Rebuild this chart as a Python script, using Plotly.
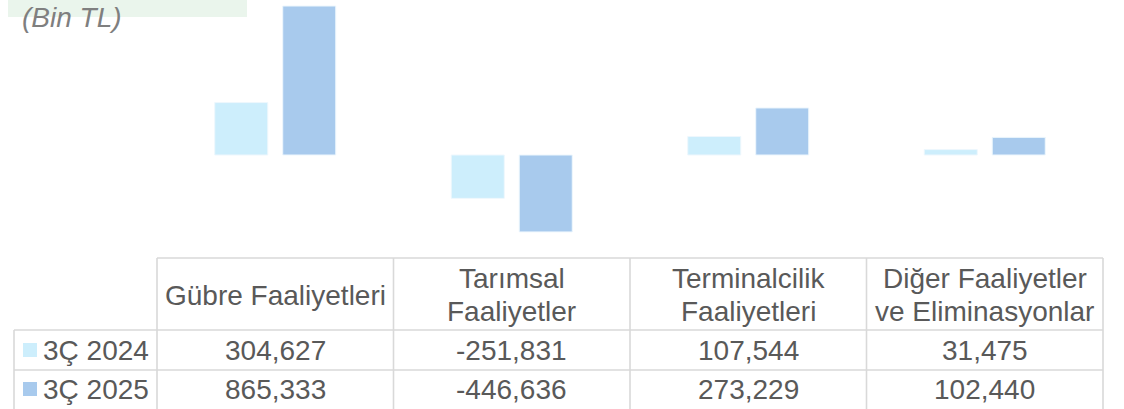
import plotly.graph_objects as go

categories = ["Gübre Faaliyetleri", "Tarımsal\nFaaliyetler", "Terminalcilik\nFaaliyetleri", "Diğer Faaliyetler\nve Eliminasyonlar"]
series_names = ["3Ç 2024", "3Ç 2025"]
values_2024 = [304627, -251831, 107544, 31475]
values_2025 = [865333, -446636, 273229, 102440]
colors = ["#CDEEFC", "#A8CAED"]
unit_label = "(Bin TL)"

W, H = 1124, 409
TXT = "#595959"
GRID = "#D9D9D9"
FONT = "Liberation Sans, Arial, sans-serif"
FS = 28

def px_x(x):
    return x / W

def px_y(y):
    return 1 - y / H

# plot geometry (pixels)
x_left, x_right = 157, 1103
zero_px, plot_bottom_px = 155, 250
scale = 149 / 865.333  # px per thousand
y_top_val = zero_px / scale * 1000
y_bot_val = -(plot_bottom_px - zero_px) / scale * 1000

fig = go.Figure()
xs = list(range(len(categories)))
for name, vals, col in zip(series_names, [values_2024, values_2025], colors):
    fig.add_trace(go.Bar(x=xs, y=vals, name=name, marker=dict(color=col, line=dict(color="#EEF7FD", width=1)),
                         hoverinfo="y"))

fig.update_layout(
    width=W, height=H,
    margin=dict(l=0, r=0, t=0, b=0),
    paper_bgcolor="white", plot_bgcolor="white",
    barmode="group", bargap=0.425, bargroupgap=0.22,
    showlegend=False,
    font=dict(family=FONT, color=TXT, size=FS),
    xaxis=dict(domain=[px_x(x_left), px_x(x_right)], range=[-0.5, len(categories) - 0.5],
               visible=False, fixedrange=True),
    yaxis=dict(domain=[px_y(plot_bottom_px), 1], range=[y_bot_val, y_top_val],
               visible=False, fixedrange=True),
)

shapes = []
# unit label background
shapes.append(dict(type="rect", xref="paper", yref="paper", x0=px_x(8), x1=px_x(247), y0=px_y(17), y1=px_y(0),
                   fillcolor="#EAF5EC", line=dict(width=0), layer="below"))

# table grid
header_top, header_bot, row1_bot, table_bot = 258, 330, 370, 412
legend_left = 14
col_edges = [x_left + i * (x_right - x_left) / len(categories) for i in range(len(categories) + 1)]
line = dict(color=GRID, width=1.6)
shapes.append(dict(type="line", xref="paper", yref="paper", x0=px_x(x_left), x1=px_x(x_right),
                   y0=px_y(header_top), y1=px_y(header_top), line=line))
for yy in [header_bot, row1_bot]:
    shapes.append(dict(type="line", xref="paper", yref="paper", x0=px_x(legend_left), x1=px_x(x_right),
                       y0=px_y(yy), y1=px_y(yy), line=line))
shapes.append(dict(type="line", xref="paper", yref="paper", x0=px_x(legend_left), x1=px_x(legend_left),
                   y0=px_y(header_bot), y1=px_y(table_bot), line=line))
for xe in col_edges:
    shapes.append(dict(type="line", xref="paper", yref="paper", x0=px_x(xe), x1=px_x(xe),
                       y0=px_y(header_top), y1=px_y(table_bot), line=line))

annotations = []
annotations.append(dict(text="<i>" + unit_label + "</i>", xref="paper", yref="paper", x=px_x(20), y=px_y(18),
                        xanchor="left", yanchor="middle", showarrow=False,
                        font=dict(family=FONT, size=FS, color="#7F7F7F")))

# header
header_mid = (header_top + header_bot) / 2 + 1
for i, cat in enumerate(categories):
    cx = (col_edges[i] + col_edges[i + 1]) / 2
    lines = cat.split("\n")
    n = len(lines)
    for j, ln in enumerate(lines):
        yy = header_mid + (j - (n - 1) / 2) * 33
        annotations.append(dict(text=ln, xref="paper", yref="paper", x=px_x(cx), y=px_y(yy),
                                xanchor="center", yanchor="middle", showarrow=False))

# data rows
row_centers = [(header_bot + row1_bot) / 2, (row1_bot + table_bot) / 2 - 2]
for r, (name, vals, col) in enumerate(zip(series_names, [values_2024, values_2025], colors)):
    yc = row_centers[r]
    shapes.append(dict(type="rect", xref="paper", yref="paper", x0=px_x(23), x1=px_x(37),
                       y0=px_y(yc + 7), y1=px_y(yc - 7), fillcolor=col, line=dict(width=0)))
    annotations.append(dict(text=name, xref="paper", yref="paper", x=px_x(41), y=px_y(yc),
                            xanchor="left", yanchor="middle", showarrow=False))
    for i, v in enumerate(vals):
        cx = (col_edges[i] + col_edges[i + 1]) / 2
        annotations.append(dict(text=f"{v:,}", xref="paper", yref="paper", x=px_x(cx), y=px_y(yc),
                                xanchor="center", yanchor="middle", showarrow=False))

fig.update_layout(shapes=shapes, annotations=annotations)
fig.write_html("out.html", config={"displayModeBar": False},
               post_script="document.body.style.margin='0';document.body.style.overflow='hidden';")
